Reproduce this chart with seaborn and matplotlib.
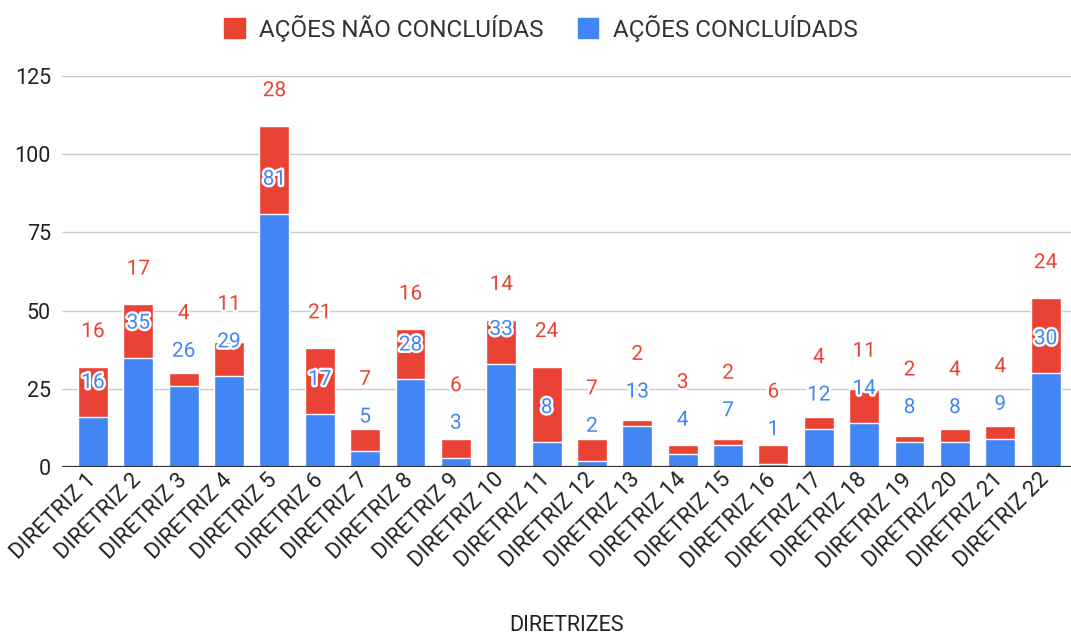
import pandas as pd
import numpy as np
import matplotlib.pyplot as plt
import matplotlib.patheffects as pe
from matplotlib.patches import Patch
import seaborn as sns

# --- data ---
diretrizes = [f'DIRETRIZ {i}' for i in range(1, 23)]
concluidas = [16, 35, 26, 29, 81, 17, 5, 28, 3, 33, 8, 2, 13, 4, 7, 1, 12, 14, 8, 8, 9, 30]
nao_concluidas = [16, 17, 4, 11, 28, 21, 7, 16, 6, 14, 24, 7, 2, 3, 2, 6, 4, 11, 2, 4, 4, 24]

RED = '#EA4335'
BLUE = '#4285F4'

df = pd.DataFrame({'Diretriz': diretrizes,
                   'Concluidas': concluidas,
                   'NaoConcluidas': nao_concluidas})
df['Total'] = df['Concluidas'] + df['NaoConcluidas']

sns.set_theme(style='white')
plt.rcParams['font.family'] = ['Roboto', 'DejaVu Sans']

fig = plt.figure(figsize=(10.71, 6.41), dpi=100)
ax = fig.add_axes([62 / 1071, 174 / 641, 1009 / 1071, 406.6 / 641])

# stacked bars: total in red, completed in blue on top of it
sns.barplot(data=df, x='Diretriz', y='Total', color=RED, width=0.66,
            saturation=1, errorbar=None, ax=ax, zorder=2)
sns.barplot(data=df, x='Diretriz', y='Concluidas', color=BLUE, width=0.66,
            saturation=1, errorbar=None, ax=ax, zorder=3)

ax.set_xlim(-0.683, 21.56)
ax.set_ylim(0, 130)
ax.set_yticks([0, 25, 50, 75, 100, 125])
ax.grid(axis='y', color='#cccccc', linewidth=1, zorder=0)
ax.set_axisbelow(True)
ax.axhline(0, color='#333333', linewidth=1.6, zorder=4)
for s in ax.spines.values():
    s.set_visible(False)

ax.tick_params(axis='y', length=0, pad=8, labelsize=15.5, labelcolor='#222222')
ax.tick_params(axis='x', length=0, pad=7, labelsize=16, labelcolor='#222222')
ax.set_xticks(range(len(diretrizes)))
ax.set_xticklabels(diretrizes, rotation=45, ha='right', va='center',
                   rotation_mode='anchor')
ax.set_ylabel('')
ax.set_xlabel('DIRETRIZES', fontsize=15.5, color='#222222')
ax.xaxis.set_label_coords(0.5, -0.365)

# value labels (blue above the blue segment, red above the total)
halo = [pe.withStroke(linewidth=3.5, foreground='white')]
for i, (b, r) in enumerate(zip(concluidas, nao_concluidas)):
    yb = b + 11
    yr = max(b + r + 11.3, yb + 12)
    ax.text(i, yb, str(b), color=BLUE, fontsize=15, ha='center', va='center',
            path_effects=halo, zorder=6)
    ax.text(i, yr, str(r), color=RED, fontsize=15, ha='center', va='center',
            path_effects=halo, zorder=6)

handles = [Patch(color=RED, label='AÇÕES NÃO CONCLUÍDAS'),
           Patch(color=BLUE, label='AÇÕES CONCLUÍDADS')]
fig.legend(handles=handles, loc='center', bbox_to_anchor=(0.505, 1 - 28 / 641),
           ncol=2, frameon=False, fontsize=17.5, handlelength=0.85,
           handleheight=0.85, handletextpad=0.6, columnspacing=1.4,
           labelcolor='#333333')

fig.savefig('out.png', dpi=100)
